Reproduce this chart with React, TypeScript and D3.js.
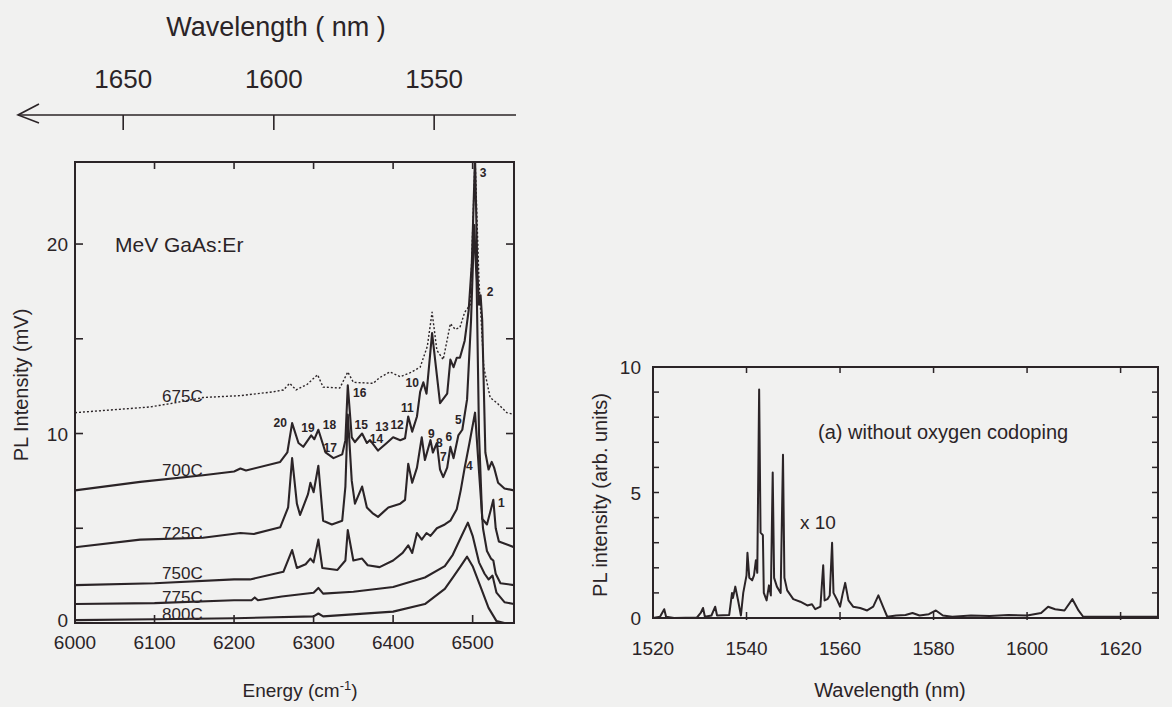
import React from "react";
import * as d3 from "d3";

type Pt = [number, number];

// ---- left panel: PL spectra of MeV GaAs:Er, energy (cm-1) vs intensity (mV) ----
const curve675: Pt[] = [
  [6000, 11.1], [6094, 11.4], [6123, 11.6], [6161, 11.9], [6208, 12.0], [6249, 12.2],
  [6262, 12.3], [6270, 12.65], [6278, 12.3], [6292, 12.6], [6305, 13.1], [6312, 12.45],
  [6333, 12.4], [6343, 13.25], [6350, 12.7], [6375, 12.65], [6383, 12.95], [6396, 13.25],
  [6409, 13.0], [6421, 13.2], [6434, 13.5], [6443, 14.6], [6449, 16.4], [6455, 14.4],
  [6463, 13.9], [6472, 15.8], [6478, 15.5], [6484, 15.6], [6490, 16.4], [6497, 16.8],
  [6503, 24.6], [6508, 18.0], [6514, 13.5], [6522, 11.9], [6531, 11.6], [6543, 11.1], [6552, 11.0],
];
const curve700: Pt[] = [
  [6000, 7.0], [6082, 7.45], [6161, 7.8], [6200, 8.0], [6208, 8.15], [6215, 8.05], [6258, 8.5],
  [6267, 9.0], [6273, 10.55], [6281, 9.5], [6287, 9.3], [6297, 9.9], [6301, 9.7], [6306, 10.2],
  [6315, 9.0], [6325, 8.7], [6336, 8.9], [6340, 9.65], [6343, 12.55], [6348, 9.8], [6352, 9.55],
  [6361, 10.0], [6367, 9.5], [6371, 9.65], [6381, 9.1], [6392, 9.5], [6400, 9.8], [6409, 9.65],
  [6415, 9.75], [6419, 10.9], [6424, 10.1], [6430, 10.9], [6434, 12.2], [6438, 12.7],
  [6442, 12.1], [6449, 15.3], [6459, 11.6], [6468, 12.1], [6472, 13.9], [6476, 13.5],
  [6480, 14.0], [6484, 14.0], [6490, 14.9], [6495, 16.5], [6499, 19.0], [6503, 24.6],
  [6506, 18.5], [6508, 16.8], [6510, 17.3], [6512, 16.0], [6516, 9.0], [6520, 8.1],
  [6524, 8.5], [6527, 8.2], [6532, 7.4], [6540, 7.1], [6552, 7.0],
];
const curve725: Pt[] = [
  [6000, 4.0], [6082, 4.4], [6161, 4.5], [6208, 4.75], [6225, 4.7], [6258, 5.05], [6268, 6.1],
  [6273, 8.7], [6279, 6.3], [6283, 5.7], [6293, 6.8], [6296, 7.4], [6300, 6.9], [6306, 8.3],
  [6312, 5.4], [6323, 5.2], [6336, 5.4], [6340, 7.2], [6343, 11.0], [6348, 7.5], [6352, 6.3],
  [6361, 7.2], [6367, 6.1], [6374, 5.8], [6381, 5.6], [6394, 6.1], [6409, 6.3], [6415, 6.5],
  [6419, 8.4], [6424, 7.4], [6430, 8.2], [6436, 9.8], [6440, 8.6], [6447, 9.65], [6450, 9.0],
  [6455, 9.5], [6459, 8.1], [6463, 7.7], [6468, 8.2], [6472, 9.3], [6476, 8.7], [6482, 9.9],
  [6487, 10.2], [6493, 11.8], [6498, 16.0], [6502, 21.0], [6505, 18.0], [6508, 10.0],
  [6512, 5.5], [6518, 5.2], [6523, 6.0], [6526, 6.5], [6529, 5.0], [6533, 4.3], [6552, 4.0],
];
const curve750: Pt[] = [
  [6000, 2.0], [6100, 2.1], [6200, 2.3], [6220, 2.3], [6262, 2.7], [6273, 3.85], [6279, 2.9],
  [6290, 3.1], [6296, 3.4], [6300, 3.2], [6306, 4.4], [6311, 2.9], [6330, 2.8], [6340, 3.3],
  [6343, 4.9], [6350, 3.3], [6361, 3.4], [6368, 3.05], [6383, 2.95], [6400, 3.3], [6412, 3.7],
  [6419, 4.1], [6424, 3.7], [6430, 4.75], [6436, 4.4], [6442, 4.75], [6447, 4.6], [6455, 5.0],
  [6465, 5.2], [6472, 5.4], [6480, 6.0], [6485, 7.0], [6490, 8.2], [6496, 9.5], [6503, 11.1],
  [6508, 8.0], [6513, 5.0], [6518, 3.8], [6523, 3.4], [6526, 3.3], [6529, 2.6], [6535, 2.1],
  [6552, 2.0],
];
const curve775: Pt[] = [
  [6000, 1.0], [6100, 1.05], [6200, 1.2], [6222, 1.2], [6226, 1.35], [6230, 1.2], [6260, 1.4],
  [6300, 1.6], [6306, 1.85], [6312, 1.55], [6350, 1.65], [6400, 1.9], [6440, 2.4], [6465, 3.0],
  [6475, 3.6], [6485, 4.5], [6494, 5.3], [6500, 4.6], [6508, 3.2], [6515, 2.6], [6520, 2.3],
  [6525, 2.5], [6530, 1.6], [6540, 1.1], [6552, 1.0],
];
const curve800: Pt[] = [
  [6000, 0.15], [6100, 0.2], [6200, 0.25], [6300, 0.35], [6306, 0.5], [6312, 0.35], [6400, 0.6],
  [6440, 1.0], [6465, 1.8], [6475, 2.4], [6485, 3.0], [6493, 3.5], [6500, 3.0], [6510, 1.9],
  [6520, 0.8], [6530, 0.1], [6540, 0], [6552, 0],
];

const leftSeries = [
  { name: "675C", data: curve675, dotted: true },
  { name: "700C", data: curve700, dotted: false },
  { name: "725C", data: curve725, dotted: false },
  { name: "750C", data: curve750, dotted: false },
  { name: "775C", data: curve775, dotted: false },
  { name: "800C", data: curve800, dotted: false },
];
// where each temperature label sits (energy, mV)
const seriesLabelAt: Pt[] = [[6135, 11.98], [6135, 8.07], [6135, 4.75], [6135, 2.64], [6135, 1.37], [6135, 0.47]];

const peakNames = ["1", "2", "3", "4", "5", "6", "7", "8", "9", "10", "11", "12", "13", "14", "15", "16", "17", "18", "19", "20"];
const peakLabelAt: Pt[] = [
  [6536, 6.33], [6522, 17.47], [6513, 23.75], [6496, 8.28], [6482, 10.71], [6470, 9.82],
  [6463, 8.76], [6458, 9.5], [6448, 9.97], [6424, 12.66], [6418, 11.35], [6405, 10.45],
  [6386, 10.34], [6379, 9.72], [6360, 10.45], [6358, 12.14], [6321, 9.23], [6320, 10.45],
  [6293, 10.29], [6258, 10.55],
];

const energyTicks = [6000, 6100, 6200, 6300, 6400, 6500];
const mvTicks = [0, 5, 10, 15, 20];
const mvLabels = [0, 10, 20];
const wavelengthTicks = [1650, 1600, 1550];

// ---- right panel: PL without oxygen codoping ----
const spectrumB: Pt[] = [
  [1520, 0], [1521.5, 0.05], [1522.4, 0.35], [1522.8, 0.05], [1524.5, 0], [1529.4, 0.02],
  [1530.2, 0.2], [1530.7, 0.4], [1531.1, 0.05], [1532.5, 0.1], [1533.3, 0.45], [1533.7, 0.1],
  [1536.3, 0.12], [1536.9, 1.0], [1537.1, 0.8], [1537.6, 1.25], [1538.2, 0.7], [1538.8, 0.1],
  [1539.3, 1.0], [1540.0, 1.7], [1540.2, 2.6], [1540.6, 1.6], [1541.2, 1.5], [1541.6, 1.7],
  [1542.0, 2.3], [1542.3, 1.8], [1542.7, 9.1], [1543.0, 3.4], [1543.5, 3.3], [1543.7, 1.0],
  [1544.3, 0.7], [1544.8, 1.3], [1545.2, 0.9], [1545.6, 5.8], [1545.9, 1.6], [1546.5, 1.25],
  [1547.3, 1.0], [1547.8, 6.5], [1548.1, 1.6], [1548.7, 1.1], [1550.0, 0.75], [1551.5, 0.65],
  [1553, 0.5], [1554, 0.55], [1554.7, 0.35], [1555.8, 0.45], [1556.0, 1.0], [1556.4, 2.1],
  [1556.7, 0.7], [1557.3, 0.75], [1557.8, 0.9], [1558.3, 3.0], [1558.6, 1.0], [1559.3, 0.75],
  [1560.0, 0.45], [1560.6, 1.0], [1561.1, 1.4], [1561.8, 0.7], [1562.8, 0.45], [1564.3, 0.4],
  [1565.8, 0.3], [1567.1, 0.45], [1568.2, 0.9], [1569.3, 0.4], [1570.1, 0.05], [1572, 0.1],
  [1574, 0.12], [1575.5, 0.2], [1577, 0.1], [1579, 0.15], [1580.5, 0.3], [1582, 0.1],
  [1584, 0.05], [1588, 0.1], [1592, 0.08], [1596, 0.12], [1600, 0.1], [1603, 0.2],
  [1604.5, 0.45], [1606, 0.35], [1608, 0.3], [1609.7, 0.75], [1611, 0.3], [1612, 0.05],
  [1616, 0.05], [1620, 0.05], [1628, 0.05],
];
const nmTicks = [1520, 1540, 1560, 1580, 1600, 1620];
const arbMinorTicks = [1, 2, 3, 4, 5, 6, 7, 8, 9];
const arbLabels = [0, 5, 10];

const INK = "#2b2427";
const BG = "#f1f1f0";
const FONT = "'Liberation Sans', Arial, sans-serif";

export default function App() {
  // left panel scales
  const xE = d3.scaleLinear().domain([6000, 6552]).range([75, 514]);
  const yV = d3.scaleLinear().domain([0, 24.33]).range([623, 162]);
  const lineL = d3
    .line<Pt>()
    .x((d) => xE(d[0]))
    .y((d) => yV(d[1]));

  // right panel scales
  const xW = d3.scaleLinear().domain([1520, 1628]).range([653, 1158]);
  const yA = d3.scaleLinear().domain([0, 10]).range([618, 367]);
  const lineR = d3
    .line<Pt>()
    .x((d) => xW(d[0]))
    .y((d) => yA(d[1]));

  const [l0, l1] = xE.range();
  const [b0, t0] = yV.range();
  const [r0, r1] = xW.range();
  const [rb, rt] = yA.range();
  const axisY = 115;

  return (
    <svg
      width={1172}
      height={707}
      style={{ position: "absolute", left: 0, top: 0, display: "block" }}
      fontFamily={FONT}
    >
      <rect width={1172} height={707} fill={BG} />
      <defs>
        <clipPath id="clipL">
          <rect x={l0} y={t0} width={l1 - l0} height={b0 - t0} />
        </clipPath>
      </defs>

      {/* top wavelength axis, placed through E = 1e7 / lambda */}
      <g stroke={INK} strokeWidth={1.6} fill="none">
        <line x1={18} y1={axisY} x2={516} y2={axisY} />
        <polyline points={`39,104 18,${axisY} 39,123`} />
        {wavelengthTicks.map((w) => (
          <line key={w} x1={xE(1e7 / w)} x2={xE(1e7 / w)} y1={axisY} y2={axisY + 15} />
        ))}
      </g>
      {wavelengthTicks.map((w) => (
        <text key={w} x={xE(1e7 / w)} y={88} fontSize={26} textAnchor="middle" fill={INK}>
          {w}
        </text>
      ))}
      <text x={276} y={36} fontSize={27} textAnchor="middle" fill={INK}>
        Wavelength ( nm )
      </text>

      {/* left frame + ticks */}
      <rect x={l0} y={t0} width={l1 - l0} height={b0 - t0} fill="none" stroke={INK} strokeWidth={2} />
      <g stroke={INK} strokeWidth={1.6}>
        {mvTicks.map((v) => (
          <g key={v}>
            <line x1={l0} x2={l0 + 8} y1={yV(v)} y2={yV(v)} />
            <line x1={l1} x2={l1 - 8} y1={yV(v)} y2={yV(v)} />
          </g>
        ))}
        {energyTicks.slice(1).map((e) => (
          <g key={e}>
            <line x1={xE(e)} x2={xE(e)} y1={b0} y2={b0 - 8} />
            <line x1={xE(e)} x2={xE(e)} y1={t0} y2={t0 + 7} />
          </g>
        ))}
      </g>
      {mvLabels.map((v) => (
        <text key={v} x={68} y={yV(v) + (v === 0 ? 4 : 7)} fontSize={19} textAnchor="end" fill={INK}>
          {v}
        </text>
      ))}
      {energyTicks.map((e) => (
        <text key={e} x={xE(e)} y={649} fontSize={19} textAnchor="middle" fill={INK}>
          {e}
        </text>
      ))}
      <text x={300} y={697} fontSize={19} textAnchor="middle" fill={INK}>
        Energy (cm<tspan dy={-7} fontSize={13}>-1</tspan>
        <tspan dy={7}>)</tspan>
      </text>
      <text
        transform="translate(28,385) rotate(-90)"
        fontSize={20}
        textAnchor="middle"
        fill={INK}
      >
        PL Intensity (mV)
      </text>

      {/* spectra */}
      <g clipPath="url(#clipL)" fill="none" stroke={INK} strokeLinejoin="round">
        {leftSeries.map((s) => (
          <path
            key={s.name}
            d={lineL(s.data) || ""}
            strokeWidth={s.dotted ? 1.4 : 2.1}
            strokeDasharray={s.dotted ? "2,2" : undefined}
          />
        ))}
      </g>
      {leftSeries.map((s, i) => (
        <text
          key={s.name}
          x={xE(seriesLabelAt[i][0])}
          y={yV(seriesLabelAt[i][1]) + 6}
          fontSize={17}
          textAnchor="middle"
          fill={INK}
        >
          {s.name}
        </text>
      ))}
      {peakNames.map((p, i) => (
        <text
          key={p}
          x={xE(peakLabelAt[i][0])}
          y={yV(peakLabelAt[i][1]) + 4}
          fontSize={12}
          fontWeight={700}
          textAnchor="middle"
          fill={INK}
        >
          {p}
        </text>
      ))}
      <text x={115} y={252} fontSize={21} fill={INK}>
        MeV GaAs:Er
      </text>

      {/* right panel */}
      <rect x={r0} y={rt} width={r1 - r0} height={rb - rt} fill="none" stroke={INK} strokeWidth={2} />
      <g stroke={INK} strokeWidth={1.5}>
        {arbMinorTicks.map((v) => (
          <g key={v}>
            <line x1={r0} x2={r0 + 6} y1={yA(v)} y2={yA(v)} />
            <line x1={r1} x2={r1 - 6} y1={yA(v)} y2={yA(v)} />
          </g>
        ))}
        {nmTicks.slice(1).map((w) => (
          <g key={w}>
            <line x1={xW(w)} x2={xW(w)} y1={rt} y2={rt + 6} />
            <line x1={xW(w)} x2={xW(w)} y1={rb + 2} y2={rb - 6} />
          </g>
        ))}
      </g>
      <path d={lineR(spectrumB) || ""} fill="none" stroke={INK} strokeWidth={2} strokeLinejoin="round" />
      {arbLabels.map((v) => (
        <text key={v} x={641} y={yA(v) + 7} fontSize={19} textAnchor="end" fill={INK}>
          {v}
        </text>
      ))}
      {nmTicks.map((w) => (
        <text key={w} x={xW(w)} y={655} fontSize={19} textAnchor="middle" fill={INK}>
          {w}
        </text>
      ))}
      <text x={890} y={697} fontSize={20} textAnchor="middle" fill={INK}>
        Wavelength (nm)
      </text>
      <text
        transform="translate(607,495) rotate(-90)"
        fontSize={20}
        textAnchor="middle"
        fill={INK}
      >
        PL intensity (arb. units)
      </text>
      <text x={818} y={439} fontSize={20} fill={INK}>
        (a) without oxygen codoping
      </text>
      <text x={800} y={529} fontSize={19} fill={INK}>
        x 10
      </text>
    </svg>
  );
}
